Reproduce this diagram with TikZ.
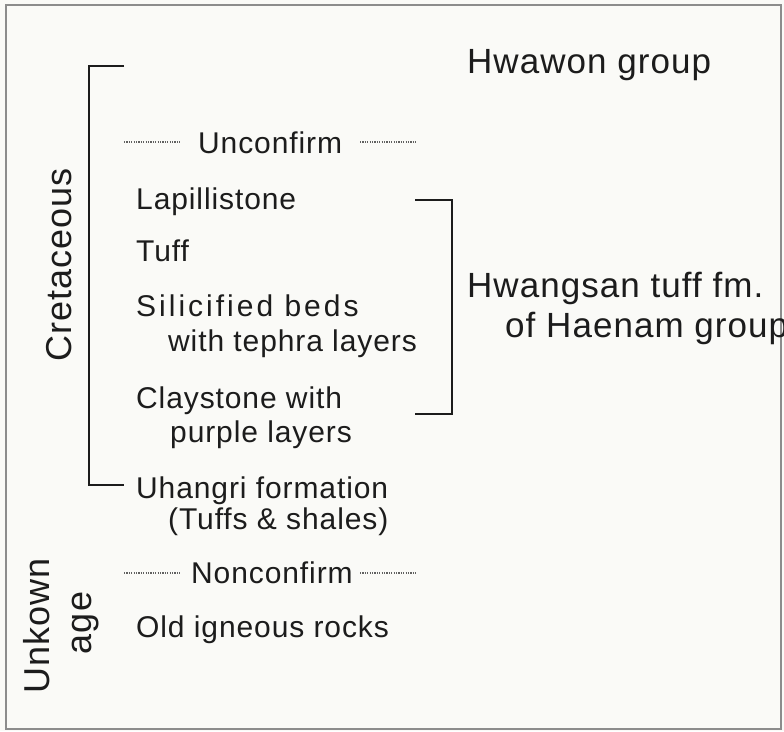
\documentclass[tikz,border=0pt]{standalone}
\usepackage{fontspec}
\setmainfont{Liberation Sans}
\newfontfamily\labfont[LetterSpace=3]{Liberation Sans}
\newfontfamily\widelabfont[LetterSpace=10]{Liberation Sans}
\definecolor{bgc}{HTML}{FAFAF7}
\definecolor{txt}{HTML}{1C1C1C}
\definecolor{frame}{HTML}{8C8C8C}
\tikzset{
  lab/.style={anchor=base west, inner sep=0pt, text=txt, font=\labfont\fontsize{30}{36}\selectfont},
  widelab/.style={anchor=base west, inner sep=0pt, text=txt, font=\widelabfont\fontsize{30}{36}\selectfont},
  biglab/.style={anchor=base west, inner sep=0pt, text=txt, font=\labfont\fontsize{35}{40}\selectfont},
  agelab/.style={inner sep=0pt, text=txt, rotate=90, font=\labfont\fontsize{36}{42}\selectfont},
  brk/.style={draw=txt, line width=2pt},
  dots/.style={draw=txt!70, line width=1.2pt, dash pattern=on 1.2pt off 1.2pt}
}
\begin{document}
\begin{tikzpicture}[x=1pt,y=-1pt]
\useasboundingbox (0,0) rectangle (784,731);
\fill[bgc] (0,0) rectangle (784,731);
\draw[frame, line width=1.5pt] (6,5) rectangle (781,729);

% right-side group labels
\node[biglab] (hwawon) at (467,73) {Hwawon group};
\node[biglab] (hwang1) at (467,297) {Hwangsan tuff fm.};
\node[biglab] (hwang2) at (505,337) {of Haenam group};

% unconformity
\node[lab] (unconf) at (198,153) {Unconfirm};
\coordinate (ua) at (124,142); \coordinate (ub) at (180,142);
\coordinate (uc) at (360,142); \coordinate (ud) at (417,142);
\draw[dots] (ua) -- (ub);
\draw[dots] (uc) -- (ud);

% column units
\node[lab] (lap) at (136,209) {Lapillistone};
\node[lab] (tuff) at (136,261) {Tuff};
\node[widelab] (sil1) at (136,316) {Silicified beds};
\node[lab] (sil2) at (168,351) {with tephra layers};
\node[lab] (clay1) at (136,408) {Claystone with};
\node[lab] (clay2) at (170,442) {purple layers};
\node[lab] (uh1) at (136,498) {Uhangri formation};
\node[lab] (uh2) at (168,529) {(Tuffs \& shales)};

% nonconformity
\node[lab] (nonconf) at (191,583) {Nonconfirm};
\coordinate (na) at (124,573); \coordinate (nb) at (180,573);
\coordinate (nc) at (360,573); \coordinate (nd) at (417,573);
\draw[dots] (na) -- (nb);
\draw[dots] (nc) -- (nd);

\node[lab] (old) at (136,637) {Old igneous rocks};

% age labels
\node[agelab] (cret) at (59,265) {Cretaceous};
\node[agelab] (unk) at (37,626) {Unkown};
\node[agelab] (age) at (86,623) {age};

% brackets
\coordinate (l1) at (124,66); \coordinate (l2) at (89,66);
\coordinate (l3) at (89,485); \coordinate (l4) at (124,485);
\draw[brk] (l1) -- (l2) -- (l3) -- (l4);
\coordinate (r1) at (415,200); \coordinate (r2) at (452,200);
\coordinate (r3) at (452,414); \coordinate (r4) at (415,414);
\draw[brk] (r1) -- (r2) -- (r3) -- (r4);
\end{tikzpicture}
\end{document}
